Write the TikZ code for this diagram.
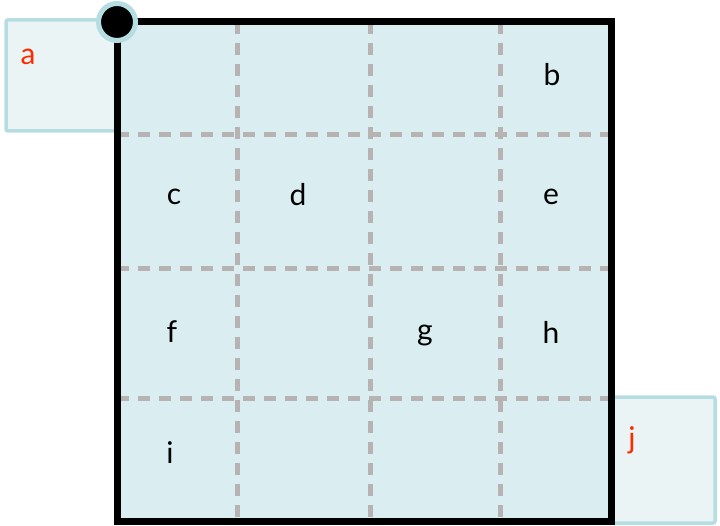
\documentclass[tikz,border=0pt]{standalone}
\usepackage{fontspec}
\setmainfont{Lato}
\definecolor{cellfill}{HTML}{DAEDF0}
\definecolor{boxfill}{HTML}{EBF4F5}
\definecolor{boxline}{HTML}{B6DEE2}
\definecolor{gridgray}{HTML}{B8B3B3}
\definecolor{labelred}{HTML}{FF2A00}
\begin{document}
\begin{tikzpicture}[x=1pt, y=-1pt,
    cellmark/.style={font=\fontsize{30}{30}\selectfont, text=black},
    endmark/.style={font=\fontsize{30}{30}\selectfont, text=labelred},
    sidebox/.style={draw=boxline, fill=boxfill, line width=3.5pt, rounded corners=2pt},
    gridline/.style={gridgray, line width=5pt, dash pattern=on 12pt off 9pt}]
    \useasboundingbox (0,0) rectangle (720,526);

    % Define the corners of the board
    \coordinate (NW) at (117,22);
    \coordinate (SE) at (611,521);

    % Draw the two outside boxes
    \draw[sidebox] (6,20) rectangle (122,131);
    \draw[sidebox] (606,397) rectangle (715,523);

    % Draw the board and its grid
    \fill[cellfill] (NW) rectangle (SE);
    \foreach \gx in {237,370,500}
        \draw[gridline] (\gx,22) -- (\gx,521);
    \foreach \gy in {135,269,398}
        \draw[gridline] (117,\gy) -- (611,\gy);
    \draw[line width=7pt] (NW) rectangle (SE);

    % Draw the start point
    \filldraw[draw=boxline, fill=black, line width=5pt] (NW) circle (18.5);

    % Place the labels
    \node (la) at (28,57) [endmark] {a};
    \node (lb) at (552,75) [cellmark] {b};
    \node (lc) at (174,197) [cellmark] {c};
    \node (ld) at (298,195) [cellmark] {d};
    \node (le) at (551,197) [cellmark] {e};
    \node (lf) at (172,332) [cellmark] {f};
    \node (lg) at (425,336) [cellmark] {g};
    \node (lh) at (551,332) [cellmark] {h};
    \node (li) at (170,453) [cellmark] {i};
    \node (lj) at (632,440) [endmark] {j};
\end{tikzpicture}
\end{document}
